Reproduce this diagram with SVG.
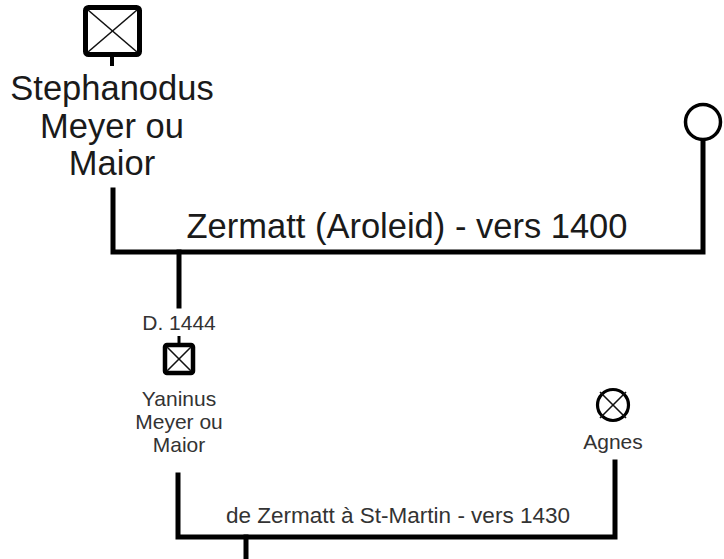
<svg xmlns="http://www.w3.org/2000/svg" width="724" height="559" viewBox="0 0 724 559">
<style>
.ln{fill:none;stroke:#000;stroke-width:5;stroke-linejoin:miter;stroke-linecap:square}
.box{fill:#fff;stroke:#000;stroke-linejoin:round}
.x{stroke:#111;stroke-width:1.6}
.big{font-family:"Liberation Sans",Arial,sans-serif;font-size:34.5px;fill:#1a1a1a;text-anchor:middle}
.sm{font-family:"Liberation Sans",Arial,sans-serif;font-size:21px;fill:#333;text-anchor:middle}
</style>
<rect width="724" height="559" fill="#fff"/>
<g id="connectors">
<path class="ln" d="M113 190 V252 H703 V141"/>
<path class="ln" d="M179 252 V306"/>
<path class="ln" d="M178 475 V537 H615 V462"/>
<path class="ln" d="M246 537 V559"/>
<text class="big" x="407" y="238">Zermatt (Aroleid) - vers 1400</text>
<text class="sm" x="398" y="523" style="font-size:22.5px">de Zermatt à St-Martin - vers 1430</text>
</g>
<g id="stephanodus">
<rect class="box" x="85.5" y="7.5" width="54" height="47" rx="3" stroke-width="5"/>
<line class="x" x1="88" y1="10" x2="137" y2="52"/>
<line class="x" x1="137" y1="10" x2="88" y2="52"/>
<line stroke="#000" stroke-width="4" x1="112" y1="56" x2="112" y2="66"/>
<text class="big"><tspan x="112" y="100">Stephanodus</tspan><tspan x="112" y="138">Meyer ou</tspan><tspan x="112" y="175">Maior</tspan></text>
</g>
<g id="spouse1">
<circle cx="703" cy="122" r="17.5" fill="#fff" stroke="#000" stroke-width="3.5"/>
</g>
<g id="yaninus">
<text class="sm" x="179" y="330">D. 1444</text>
<line stroke="#000" stroke-width="3" x1="179" y1="336" x2="179" y2="344"/>
<rect class="box" x="165" y="345" width="28" height="28" rx="2" stroke-width="4.5"/>
<line class="x" x1="167" y1="347" x2="191" y2="371"/>
<line class="x" x1="191" y1="347" x2="167" y2="371"/>
<text class="sm"><tspan x="179" y="406">Yaninus</tspan><tspan x="179" y="429">Meyer ou</tspan><tspan x="179" y="452">Maior</tspan></text>
</g>
<g id="agnes">
<circle cx="613" cy="405" r="15.5" fill="#fff" stroke="#000" stroke-width="3.2"/>
<line class="x" x1="600" y1="392" x2="626" y2="418"/>
<line class="x" x1="626" y1="392" x2="600" y2="418"/>
<text class="sm" x="613" y="449">Agnes</text>
</g>
</svg>
